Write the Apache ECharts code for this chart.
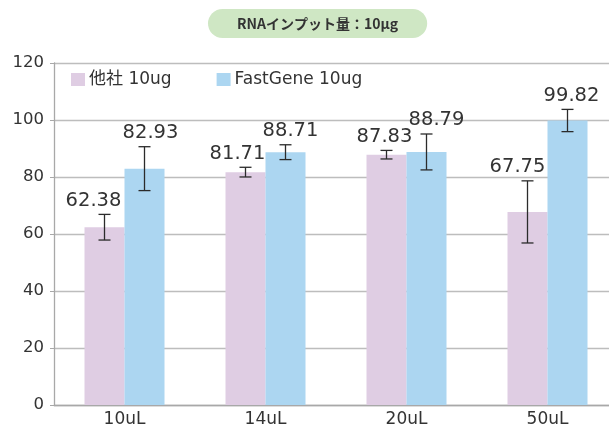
<!DOCTYPE html>
<html><head><meta charset="utf-8">
<script src="https://cdn.jsdelivr.net/npm/echarts@6/dist/echarts.min.js"></script>
<style>html,body{margin:0;padding:0;background:#fff;overflow:hidden;width:609px;height:429px}#c{width:622px;height:429px}</style>
</head><body><div id="c"></div>
<script>
const categories = ['10uL', '14uL', '20uL', '50uL'];
const seriesNames = ['他社 10ug', 'FastGene 10ug'];
const otherValues = [62.38, 81.71, 87.83, 67.75];
const otherErrors = [4.5, 1.7, 1.5, 10.9];
const fastValues = [82.93, 88.71, 88.79, 99.82];
const fastErrors = [7.7, 2.6, 6.3, 3.9];
const yTicks = [0, 20, 40, 60, 80, 100, 120];
const titleText = 'RNAインプット量：10μg';

const FONT = "'DejaVu Sans', 'Noto Sans CJK JP', sans-serif";
const colors = ['#dfcde3', '#acd6f1'];
const BAR_W = 40;
// small horizontal nudges of the value labels (as placed in the original)
const labelNudge = [[-11, -8, -2, -10], [6, 5, 10, 4]];

function errSeries(name, values, errors, sign, k) {
  return {
    type: 'custom', name: name + ' err', z: 5,
    data: values.map((v, i) => [i, v, errors[i]]),
    encode: { x: 0, y: 1 },
    renderItem: function (params, api) {
      const ci = api.value(0), v = api.value(1), e = api.value(2);
      const cx = api.coord([ci, 0])[0] + sign * BAR_W / 2;
      const yt = api.coord([ci, v + e])[1];
      const yb = api.coord([ci, v - e])[1];
      const st = { stroke: '#2b2b2b', lineWidth: 1.3 };
      return {
        type: 'group', children: [
          { type: 'line', shape: { x1: cx, y1: yt, x2: cx, y2: yb }, style: st },
          { type: 'line', shape: { x1: cx - 6, y1: yt, x2: cx + 6, y2: yt }, style: st },
          { type: 'line', shape: { x1: cx - 6, y1: yb, x2: cx + 6, y2: yb }, style: st },
          { type: 'text', style: { text: v.toFixed(2), x: cx + labelNudge[k][ci], y: yt - 4, align: 'center', verticalAlign: 'bottom',
              fill: '#333', fontSize: 19.5, fontFamily: FONT } }
        ]
      };
    }
  };
}

const chart = echarts.init(document.getElementById('c'), null, { renderer: 'canvas' });
chart.setOption({
  animation: false,
  textStyle: { fontFamily: FONT },
  title: {
    text: titleText, left: 208, top: 9,
    backgroundColor: '#cfe7c4', borderRadius: 15, padding: [6, 29, 6, 29],
    textStyle: { fontSize: 14, fontWeight: 'bold', color: '#333', fontFamily: "'Noto Sans CJK JP', sans-serif", lineHeight: 17 }
  },
  legend: {
    data: seriesNames, left: 66, top: 66, icon: 'rect', itemWidth: 14, itemHeight: 13, itemGap: 45,
    textStyle: { fontSize: 17, color: '#333', padding: [0, 0, 0, -1] }
  },
  grid: { left: 54, top: 63, width: 564, height: 342 },
  xAxis: {
    type: 'category', data: categories,
    axisLine: { lineStyle: { color: '#a8a8a8', width: 1.3 } },
    axisTick: { length: 5, lineStyle: { color: '#a8a8a8' } },
    axisLabel: { fontSize: 17, color: '#333', margin: 6 }
  },
  yAxis: {
    type: 'value', min: yTicks[0], max: yTicks[yTicks.length - 1], interval: yTicks[1] - yTicks[0],
    axisLine: { show: true, lineStyle: { color: '#a8a8a8', width: 1.3 } },
    axisTick: { show: true, length: 4, lineStyle: { color: '#a8a8a8' } },
    splitLine: { lineStyle: { color: '#bdbdbd', width: 1.3 } },
    axisLabel: { fontSize: 16.5, color: '#333', margin: 10 }
  },
  series: [
    { type: 'bar', name: seriesNames[0], data: otherValues, barWidth: BAR_W, barGap: '0%', itemStyle: { color: colors[0] } },
    { type: 'bar', name: seriesNames[1], data: fastValues, barWidth: BAR_W, barGap: '0%', itemStyle: { color: colors[1] } },
    errSeries(seriesNames[0], otherValues, otherErrors, -1, 0),
    errSeries(seriesNames[1], fastValues, fastErrors, 1, 1)
  ]
});
</script></body></html>
